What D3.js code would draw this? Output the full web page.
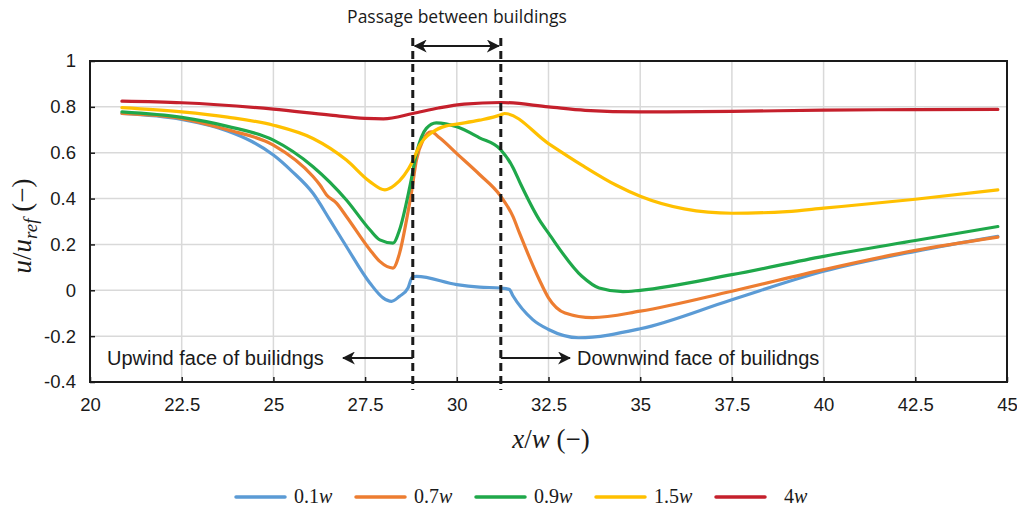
<!DOCTYPE html>
<html>
<head>
<meta charset="utf-8">
<script src="https://cdn.jsdelivr.net/npm/d3@7"></script>
<style>
  body { margin: 0; background: #fff; }
  svg { display: block; }
</style>
</head>
<body>
<div id="chart"></div>
<script>
// velocity ratio along the street, one array per height above ground
var xTicks = [20, 22.5, 25, 27.5, 30, 32.5, 35, 37.5, 40, 42.5, 45];
var yTicks = [-0.4, -0.2, 0, 0.2, 0.4, 0.6, 0.8, 1];
var seriesNames = ["0.1", "0.7", "0.9", "1.5", "4"];
var seriesColors = ["#5b9bd5", "#ed7d31", "#1fa84a", "#ffc000", "#c5202c"];
var passage = [28.8, 31.2];

var h01 = [[20.87,0.771],[22.5,0.745],[23.75,0.695],[24.4,0.65],[25,0.59],[25.5,0.52],[26.08,0.423],[26.54,0.307],[26.99,0.191],[27.63,0.032],[27.99,-0.033],[28.22,-0.048],[28.44,-0.026],[28.67,0.01],[28.79,0.058],[28.9,0.061],[30,0.025],[30.62,0.014],[31.19,0.01],[31.43,0.004],[31.53,-0.024],[32.07,-0.128],[32.5,-0.171],[33.32,-0.207],[35,-0.168],[37.5,-0.041],[40,0.083],[42.5,0.17],[44.75,0.235]];
var h07 = [[20.87,0.771],[22.5,0.749],[23.75,0.70],[25,0.633],[26.08,0.496],[26.27,0.459],[26.45,0.416],[26.72,0.38],[26.99,0.322],[27.63,0.177],[27.9,0.126],[28.26,0.097],[28.44,0.162],[28.63,0.307],[28.76,0.423],[28.9,0.568],[29.08,0.655],[29.3,0.691],[29.53,0.665],[30,0.596],[30.62,0.505],[31.19,0.412],[31.53,0.322],[31.71,0.249],[32.25,0.046],[32.5,-0.033],[32.95,-0.099],[33.7,-0.119],[35,-0.091],[37.5,-0.004],[40,0.09],[42.5,0.174],[44.75,0.232]];
var h09 = [[20.87,0.778],[22.5,0.754],[23.75,0.715],[25,0.655],[26.08,0.539],[26.99,0.394],[27.63,0.264],[27.9,0.22],[28.26,0.206],[28.44,0.264],[28.72,0.452],[28.9,0.597],[29.17,0.706],[29.44,0.73],[30,0.713],[30.62,0.665],[31.19,0.614],[31.53,0.536],[31.75,0.46],[32.25,0.307],[32.5,0.249],[33.41,0.061],[33.88,0.01],[34.53,-0.006],[35,0.0],[37.5,0.068],[40,0.148],[42.5,0.217],[44.75,0.278]];
var h15 = [[20.87,0.797],[22.5,0.778],[23.75,0.755],[25,0.72],[26.08,0.662],[26.99,0.568],[27.63,0.474],[28.04,0.438],[28.31,0.459],[28.79,0.561],[28.99,0.633],[29.35,0.691],[29.71,0.717],[30,0.725],[30.62,0.742],[31.2,0.765],[31.3,0.771],[32.5,0.64],[33.41,0.546],[34.35,0.458],[35,0.41],[36.2,0.355],[37.5,0.336],[39,0.343],[40,0.358],[42.5,0.397],[44.75,0.438]];
var h4 = [[20.87,0.825],[22.5,0.818],[25,0.79],[26.5,0.765],[27.5,0.75],[28.0,0.748],[28.8,0.771],[29.5,0.795],[30.2,0.812],[31.2,0.819],[32.5,0.80],[33.5,0.785],[35,0.778],[37.5,0.78],[40,0.786],[42.5,0.788],[44.75,0.789]];
var allSeries = [h01, h07, h09, h15, h4];

(function () {
    var width = 1017, height = 511;
    var plot = { left: 90, right: 1007, top: 61, bottom: 382 };

    var svg = d3.select("#chart").append("svg")
        .attr("width", width)
        .attr("height", height);

    var defs = svg.append("defs");
    defs.append("marker")
        .attr("id", "head")
        .attr("viewBox", "0 0 12 12")
        .attr("refX", 11).attr("refY", 6)
        .attr("markerWidth", 13).attr("markerHeight", 13)
        .attr("markerUnits", "userSpaceOnUse")
        .attr("orient", "auto-start-reverse")
        .append("path")
        .attr("d", "M0,0 L12,6 L0,12 L3.5,6 Z")
        .attr("fill", "#1a1a1a");

    var x = d3.scaleLinear().domain([20, 45]).range([plot.left, plot.right]);
    var y = d3.scaleLinear().domain([-0.4, 1]).range([plot.bottom, plot.top]);
    var fmt = function (d) { return String(+d.toFixed(1)); };

    // grid
    svg.append("g").selectAll("line")
        .data(xTicks.slice(1, -1))
        .enter().append("line")
        .attr("x1", function (d) { return x(d); }).attr("x2", function (d) { return x(d); })
        .attr("y1", plot.top).attr("y2", plot.bottom)
        .attr("stroke", "#d9d9d9").attr("stroke-width", 1.5);
    svg.append("g").selectAll("line")
        .data(yTicks.slice(1, -1))
        .enter().append("line")
        .attr("y1", function (d) { return y(d); }).attr("y2", function (d) { return y(d); })
        .attr("x1", plot.left).attr("x2", plot.right)
        .attr("stroke", "#d9d9d9").attr("stroke-width", 1.5);

    // axes with inward ticks
    var xAxis = svg.append("g")
        .attr("transform", "translate(0," + plot.bottom + ")")
        .call(d3.axisBottom(x).tickValues(xTicks).tickFormat(fmt).tickSizeInner(-5).tickSizeOuter(0).tickPadding(16));
    var yAxis = svg.append("g")
        .attr("transform", "translate(" + plot.left + ",0)")
        .call(d3.axisLeft(y).tickValues(yTicks).tickFormat(fmt).tickSizeInner(-5).tickSizeOuter(0).tickPadding(14));
    [xAxis, yAxis].forEach(function (a) {
        a.select(".domain").remove();
        a.selectAll(".tick line").attr("stroke", "#1a1a1a").attr("stroke-width", 1.5);
        a.selectAll("text")
            .style("font-family", "'Liberation Sans', Arial, sans-serif")
            .style("font-size", "18.5px")
            .attr("fill", "#1a1a1a");
    });

    svg.append("rect")
        .attr("x", plot.left).attr("y", plot.top)
        .attr("width", plot.right - plot.left).attr("height", plot.bottom - plot.top)
        .attr("fill", "none").attr("stroke", "#1a1a1a").attr("stroke-width", 2);

    // series
    var line = d3.line()
        .x(function (d) { return x(d[0]); })
        .y(function (d) { return y(d[1]); })
        .curve(d3.curveMonotoneX);
    svg.append("g").selectAll("path")
        .data(allSeries)
        .enter().append("path")
        .attr("d", line)
        .attr("fill", "none")
        .attr("stroke", function (d, i) { return seriesColors[i]; })
        .attr("stroke-width", 3.2)
        .attr("stroke-linejoin", "round")
        .attr("stroke-linecap", "round");

    // passage lines and annotations
    svg.append("g").selectAll("line")
        .data(passage)
        .enter().append("line")
        .attr("x1", function (d) { return x(d); }).attr("x2", function (d) { return x(d); })
        .attr("y1", 38).attr("y2", 390)
        .attr("stroke", "#1a1a1a").attr("stroke-width", 3)
        .attr("stroke-dasharray", "8,5");

    var arrows = svg.append("g").attr("stroke", "#1a1a1a").attr("stroke-width", 2.2);
    arrows.append("line")
        .attr("x1", x(passage[0]) + 2).attr("x2", x(passage[1]) - 2)
        .attr("y1", 46).attr("y2", 46)
        .attr("marker-start", "url(#head)").attr("marker-end", "url(#head)");
    arrows.append("line")
        .attr("x1", x(passage[0])).attr("x2", 343)
        .attr("y1", 358).attr("y2", 358)
        .attr("marker-end", "url(#head)");
    arrows.append("line")
        .attr("x1", x(passage[1])).attr("x2", 570)
        .attr("y1", 358).attr("y2", 358)
        .attr("marker-end", "url(#head)");

    svg.append("text")
        .attr("x", 457).attr("y", 23)
        .attr("text-anchor", "middle")
        .style("font-family", "'Open Sans', 'Noto Sans', sans-serif")
        .style("font-size", "17.5px")
        .attr("fill", "#1a1a1a")
        .text("Passage between buildings");

    var notes = [
        { text: "Upwind face of builidngs", x: 107 },
        { text: "Downwind face of builidngs", x: 577 }
    ];
    svg.append("g").selectAll("text")
        .data(notes)
        .enter().append("text")
        .attr("x", function (d) { return d.x; })
        .attr("y", 365)
        .style("font-family", "'Liberation Sans', Arial, sans-serif")
        .style("font-size", "20px")
        .attr("fill", "#1a1a1a")
        .text(function (d) { return d.text; });

    // axis titles
    var serif = "'Liberation Serif', 'DejaVu Serif', serif";
    var xt = svg.append("text")
        .attr("x", 551).attr("y", 448)
        .attr("text-anchor", "middle")
        .style("font-family", serif).style("font-size", "27px")
        .attr("fill", "#1a1a1a");
    xt.append("tspan").style("font-style", "italic").text("x");
    xt.append("tspan").text("/");
    xt.append("tspan").style("font-style", "italic").text("w");
    xt.append("tspan").text(" (\u2212)");

    var yt = svg.append("text")
        .attr("transform", "translate(31,226) rotate(-90)")
        .attr("text-anchor", "middle")
        .style("font-family", serif).style("font-size", "27px")
        .attr("fill", "#1a1a1a");
    yt.append("tspan").style("font-style", "italic").text("u");
    yt.append("tspan").text("/");
    yt.append("tspan").style("font-style", "italic").text("u");
    yt.append("tspan").style("font-style", "italic").style("font-size", "19px")
        .attr("dy", 6).text("ref");
    yt.append("tspan").attr("dy", -6).text(" (\u2212)");

    // legend
    var legendX = [236, 356, 476, 596, 716];
    var legend = svg.append("g").selectAll("g")
        .data(seriesNames)
        .enter().append("g")
        .attr("transform", function (d, i) { return "translate(" + legendX[i] + ",497)"; });
    legend.append("line")
        .attr("x1", 0).attr("x2", 49)
        .attr("stroke", function (d, i) { return seriesColors[i]; })
        .attr("stroke-width", 3.5)
        .attr("stroke-linecap", "round");
    var lt = legend.append("text")
        .attr("x", function (d, i) { return i === 4 ? 68 : 58; })
        .attr("y", 6)
        .style("font-family", serif).style("font-size", "20px")
        .attr("fill", "#1a1a1a");
    lt.append("tspan").text(function (d) { return d; });
    lt.append("tspan").style("font-style", "italic").text("w");
})();
</script>
</body>
</html>
